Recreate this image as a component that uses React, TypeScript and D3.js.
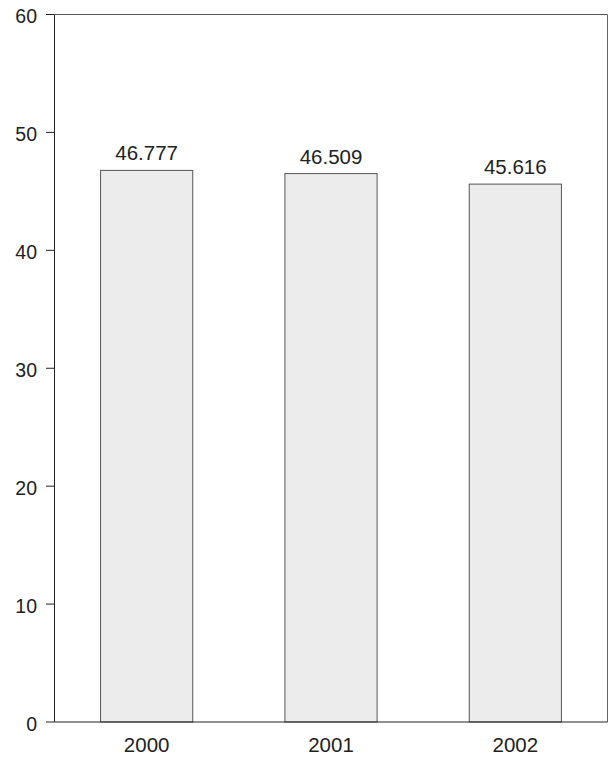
import React from "react";
import * as d3 from "d3";

const categories = ["2000", "2001", "2002"];
const values = [46.777, 46.509, 45.616];
const yTicks = [0, 10, 20, 30, 40, 50, 60];

export default function App() {
  const W = 611, H = 759;
  const left = 54.5, right = 607.5, top = 14.5, bottom = 722;
  const x = d3.scaleBand<string>().domain(categories).range([left, right]).paddingInner(0.5).paddingOuter(0.25);
  const y = d3.scaleLinear().domain([0, 60]).range([bottom, top]);
  const font = "'Liberation Sans', Arial, sans-serif";
  return (
    <svg width={W} height={H} style={{ position: "absolute", left: 0, top: 0 }} fontFamily={font}>
      <rect x={0} y={0} width={W} height={H} fill="#fff" />
      {categories.map((c, i) => (
        <g key={c}>
          <rect x={x(c)!} y={y(values[i])} width={x.bandwidth()} height={bottom - y(values[i])} fill="#ebeceb" stroke="#555" strokeWidth={1} />
          <text x={x(c)! + x.bandwidth() / 2} y={y(values[i]) - 10} textAnchor="middle" fontSize={20.5} fill="#222">{values[i].toFixed(3)}</text>
          <text x={x(c)! + x.bandwidth() / 2} y={751.5} textAnchor="middle" fontSize={20.5} fill="#222">{c}</text>
        </g>
      ))}
      <line x1={left} x2={right} y1={top} y2={top} stroke="#555" />
      <line x1={right} x2={right} y1={top} y2={bottom} stroke="#666" />
      <line x1={left} x2={left} y1={top} y2={bottom} stroke="#222" />
      <line x1={left} x2={right} y1={bottom} y2={bottom} stroke="#222" />
      {yTicks.map((t) => (
        <g key={t}>
          <line x1={left - 8.5} x2={left} y1={y(t)} y2={y(t)} stroke="#222" />
          <text x={37} y={y(t) + 8.6} textAnchor="end" fontSize={19.5} fill="#222">{t}</text>
        </g>
      ))}
    </svg>
  );
}
